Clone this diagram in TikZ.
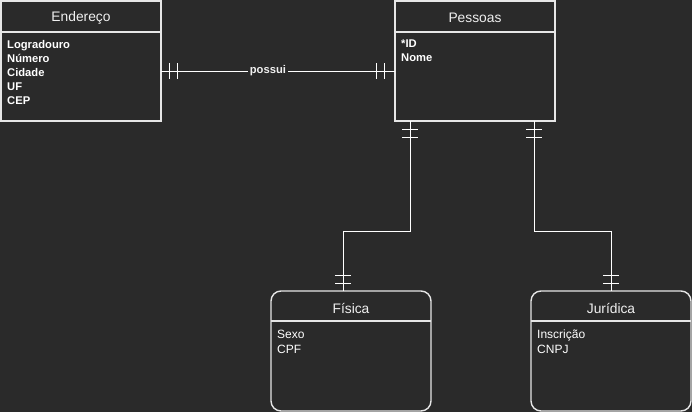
\documentclass[tikz,border=0pt]{standalone}
\usepackage{fontspec}
\setmainfont{Liberation Sans}
\usetikzlibrary{calc}
\definecolor{bg}{HTML}{2A2A2A}
\definecolor{ln}{HTML}{E6E6E6}
\definecolor{tx}{HTML}{F0F0F0}
\begin{document}
\begin{tikzpicture}[x=1pt,y=-1pt,
  entity/.style={draw=ln, line width=1.4pt, minimum width=160pt, minimum height=120pt, inner sep=0pt, outer sep=0pt},
  hdr/.style={text=tx, font=\fontsize{13.8}{15}\selectfont, inner sep=0pt},
  attrs/.style={text=white, font=\fontsize{11.2}{14}\selectfont\bfseries, align=left, anchor=north west, inner sep=0pt},
  attrsreg/.style={text=white, font=\fontsize{12}{15}\selectfont, align=left, anchor=north west, inner sep=0pt},
  sep/.style={draw=ln, line width=1.6pt},
  conn/.style={draw=white, line width=0.9pt},
  tick/.style={draw=white, line width=0.9pt}
]
\fill[bg] (0,0) rectangle (692,412);
\useasboundingbox (0,0) rectangle (692,412);

% entities
\node[entity] (end) at (81,61) {};
\node[entity] (pes) at (475,61) {};
\node[entity, rounded corners=10pt] (fis) at (351,351) {};
\node[entity, rounded corners=10pt] (jur) at (611,351) {};

% header separators
\draw[sep] (end.west |- 0,32) -- (end.east |- 0,32);
\draw[sep] (pes.west |- 0,32) -- (pes.east |- 0,32);
\draw[sep] (fis.west |- 0,321) -- (fis.east |- 0,321);
\draw[sep] (jur.west |- 0,321) -- (jur.east |- 0,321);

% headers
\node[hdr] (endh) at (81,18) {Endereço};
\node[hdr] (pesh) at (475,18) {Pessoas};
\node[hdr] (fish) at (351,308) {Física};
\node[hdr] (jurh) at (611,308) {Jurídica};

% attributes
\node[attrs] (enda) at (7,40) {Logradouro\\Número\\Cidade\\UF\\CEP};
\node[attrs] (pesa) at (401,40) {*ID\\Nome};
\node[attrsreg] (fisa) at (277,329.5) {Sexo\\CPF};
\node[attrsreg] (jura) at (537,329.5) {Inscrição\\CNPJ};

% connector Endereço - Pessoas
\draw[conn] ([yshift=-10pt]end.east) -- node[pos=0.457, fill=bg, text=tx, font=\fontsize{11.2}{13}\selectfont\bfseries, inner sep=2pt] (lbl) {possui} ([yshift=-10pt]pes.west);
\draw[tick] ([xshift=8pt,yshift=-10pt]end.east) ++(0,-8) -- ++(0,16);
\draw[tick] ([xshift=16pt,yshift=-10pt]end.east) ++(0,-8) -- ++(0,16);
\draw[tick] ([xshift=-11pt,yshift=-10pt]pes.west) ++(0,-8) -- ++(0,16);
\draw[tick] ([xshift=-19pt,yshift=-10pt]pes.west) ++(0,-8) -- ++(0,16);

% connector Pessoas - Física
\draw[conn] ([xshift=-65pt]pes.south) -- ++(0,110) -| ([xshift=-8pt]fis.north);
\draw[tick] ([xshift=-65pt,yshift=-8pt]pes.south) ++(-8,0) -- ++(16,0);
\draw[tick] ([xshift=-65pt,yshift=-16pt]pes.south) ++(-8,0) -- ++(16,0);
\draw[tick] ([xshift=-8pt,yshift=8pt]fis.north) ++(-8,0) -- ++(16,0);
\draw[tick] ([xshift=-8pt,yshift=16pt]fis.north) ++(-8,0) -- ++(16,0);

% connector Pessoas - Jurídica
\draw[conn] ([xshift=59pt]pes.south) -- ++(0,110) -| (jur.north);
\draw[tick] ([xshift=59pt,yshift=-8pt]pes.south) ++(-8,0) -- ++(16,0);
\draw[tick] ([xshift=59pt,yshift=-16pt]pes.south) ++(-8,0) -- ++(16,0);
\draw[tick] ([yshift=8pt]jur.north) ++(-8,0) -- ++(16,0);
\draw[tick] ([yshift=16pt]jur.north) ++(-8,0) -- ++(16,0);
\end{tikzpicture}
\end{document}
